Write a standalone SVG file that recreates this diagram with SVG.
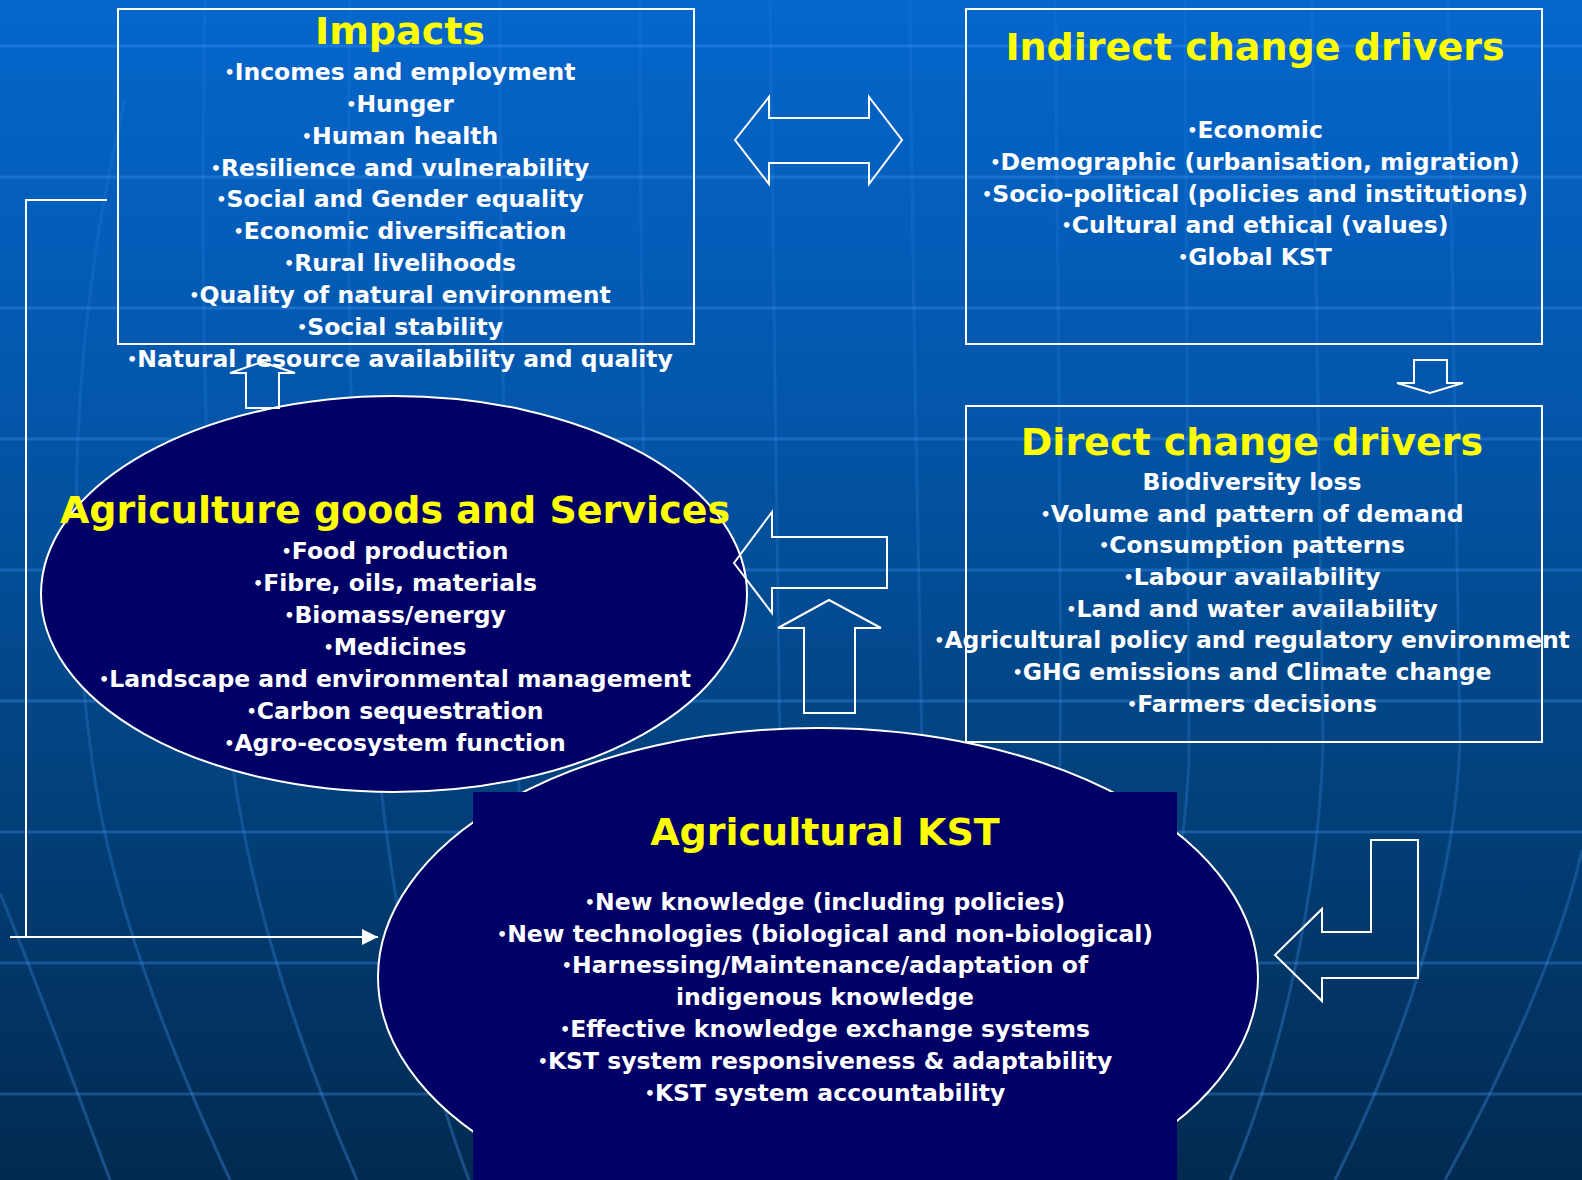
<svg xmlns="http://www.w3.org/2000/svg" width="1582" height="1180" viewBox="0 0 1582 1180">
  <defs>
    <linearGradient id="bg" x1="0" y1="0" x2="0" y2="1">
      <stop offset="0" stop-color="#0566cc"/>
      <stop offset="0.35" stop-color="#0356aa"/>
      <stop offset="0.65" stop-color="#02427f"/>
      <stop offset="1" stop-color="#022a50"/>
    </linearGradient>
    <linearGradient id="meridianFade" gradientUnits="userSpaceOnUse" x1="0" y1="0" x2="0" y2="1180">
      <stop offset="0" stop-color="#4aa0ff" stop-opacity="0.1"/>
      <stop offset="0.55" stop-color="#4aa0ff" stop-opacity="0.18"/>
      <stop offset="1" stop-color="#4aa0ff" stop-opacity="0.32"/>
    </linearGradient>
    <marker id="head" viewBox="0 0 16 16" refX="16" refY="8" markerWidth="16" markerHeight="16" markerUnits="userSpaceOnUse" orient="auto">
      <path d="M0,0 L16,8 L0,16 Z" fill="#ffffff"/>
    </marker>
    <style>
      .grid { stroke: #4aa0ff; stroke-opacity: 0.3; stroke-width: 3; fill: none; }
      .meridian { stroke: url(#meridianFade); stroke-width: 3; fill: none; }
      .frame { fill: none; stroke: #ffffff; stroke-width: 2; }
      .oval { fill: #000066; stroke: #ffffff; stroke-width: 2; }
      .navy { fill: #000066; }
      .block { fill: none; stroke: #ffffff; stroke-width: 2; stroke-linejoin: miter; }
      .wire { fill: none; stroke: #ffffff; stroke-width: 2; }
      text { font-family: "DejaVu Sans", Verdana, sans-serif; font-weight: bold; text-anchor: middle; }
      .title { fill: #ffff00; font-size: 38px; }
      .item { fill: #ffffff; font-size: 23.5px; }
      .b { font-size: 16px; baseline-shift: 2px; }
    </style>
  </defs>

  <!-- backdrop: blue gradient with a faint globe grid -->
  <rect x="0" y="0" width="1582" height="1180" fill="url(#bg)"/>
  <g id="globe-grid">
    <path class="grid" d="M0,46 H1582 M0,177 H1582 M0,308 H1582 M0,439 H1582 M0,570 H1582 M0,701 H1582 M0,832 H1582 M0,963 H1582 M0,1094 H1582"/>
    <path class="meridian" d="M0,893 C40,990 80,1100 110,1180"/>
    <path class="meridian" d="M125,100 C70,330 65,560 92,760 C110,900 170,1050 230,1180"/>
    <path class="meridian" d="M205,0 C200,300 205,600 232,760 C250,900 300,1050 357,1180"/>
    <path class="meridian" d="M350,0 C345,300 352,600 378,760 C392,900 420,1050 469,1180"/>
    <path class="meridian" d="M500,0 C500,300 505,600 520,800"/>
    <path class="meridian" d="M640,0 C640,200 642,350 645,600"/>
    <path class="meridian" d="M770,0 C772,300 778,600 780,760"/>
    <path class="meridian" d="M910,0 C912,300 920,600 922,760"/>
    <path class="meridian" d="M1055,0 C1058,300 1062,600 1060,760 C1055,900 1040,1050 1020,1180"/>
    <path class="meridian" d="M1185,0 C1187,300 1190,600 1189,760 C1185,850 1160,1000 1120,1180"/>
    <path class="meridian" d="M1312,0 C1315,300 1322,600 1323,740 C1320,880 1285,1050 1230,1180"/>
    <path class="meridian" d="M1448,0 C1452,300 1460,600 1460,740 C1455,900 1395,1060 1335,1180"/>
    <path class="meridian" d="M1582,850 C1560,950 1500,1080 1445,1180"/>
  </g>

  <!-- Impacts -->
  <g id="impacts">
    <rect class="frame" x="118" y="9" width="576" height="335"/>
    <text class="title" x="400" y="44">Impacts</text>
    <text class="item" x="400" y="80"><tspan class="b">•</tspan>Incomes and employment</text>
    <text class="item" x="400" y="112"><tspan class="b">•</tspan>Hunger</text>
    <text class="item" x="400" y="144"><tspan class="b">•</tspan>Human health</text>
    <text class="item" x="400" y="176"><tspan class="b">•</tspan>Resilience and vulnerability</text>
    <text class="item" x="400" y="207"><tspan class="b">•</tspan>Social and Gender equality</text>
    <text class="item" x="400" y="239"><tspan class="b">•</tspan>Economic diversification</text>
    <text class="item" x="400" y="271"><tspan class="b">•</tspan>Rural livelihoods</text>
    <text class="item" x="400" y="303"><tspan class="b">•</tspan>Quality of natural environment</text>
    <text class="item" x="400" y="335"><tspan class="b">•</tspan>Social stability</text>
    <text class="item" x="400" y="367"><tspan class="b">•</tspan>Natural resource availability and quality</text>
  </g>

  <!-- Indirect change drivers -->
  <g id="indirect-drivers">
    <rect class="frame" x="966" y="9" width="576" height="335"/>
    <text class="title" x="1255" y="60">Indirect change drivers</text>
    <text class="item" x="1255" y="138"><tspan class="b">•</tspan>Economic</text>
    <text class="item" x="1255" y="170"><tspan class="b">•</tspan>Demographic (urbanisation, migration)</text>
    <text class="item" x="1255" y="202"><tspan class="b">•</tspan>Socio-political (policies and institutions)</text>
    <text class="item" x="1255" y="233"><tspan class="b">•</tspan>Cultural and ethical (values)</text>
    <text class="item" x="1255" y="265"><tspan class="b">•</tspan>Global KST</text>
  </g>

  <!-- Direct change drivers -->
  <g id="direct-drivers">
    <rect class="frame" x="966" y="406" width="576" height="336"/>
    <text class="title" x="1252" y="455">Direct change drivers</text>
    <text class="item" x="1252" y="490">Biodiversity loss</text>
    <text class="item" x="1252" y="522"><tspan class="b">•</tspan>Volume and pattern of demand</text>
    <text class="item" x="1252" y="553"><tspan class="b">•</tspan>Consumption patterns</text>
    <text class="item" x="1252" y="585"><tspan class="b">•</tspan>Labour availability</text>
    <text class="item" x="1252" y="617"><tspan class="b">•</tspan>Land and water availability</text>
    <text class="item" x="1252" y="648"><tspan class="b">•</tspan>Agricultural policy and regulatory environment</text>
    <text class="item" x="1252" y="680"><tspan class="b">•</tspan>GHG emissions and Climate change</text>
    <text class="item" x="1252" y="712"><tspan class="b">•</tspan>Farmers decisions</text>
  </g>

  <!-- Agricultural KST -->
  <g id="agri-kst">
    <ellipse class="oval" cx="818" cy="977" rx="440" ry="249"/>
    <rect class="navy" x="473" y="792" width="704" height="388"/>
    <text class="title" x="825" y="845">Agricultural KST</text>
    <text class="item" x="825" y="910"><tspan class="b">•</tspan>New knowledge (including policies)</text>
    <text class="item" x="825" y="942"><tspan class="b">•</tspan>New technologies (biological and non-biological)</text>
    <text class="item" x="825" y="973"><tspan class="b">•</tspan>Harnessing/Maintenance/adaptation of</text>
    <text class="item" x="825" y="1005">indigenous knowledge</text>
    <text class="item" x="825" y="1037"><tspan class="b">•</tspan>Effective knowledge exchange systems</text>
    <text class="item" x="825" y="1069"><tspan class="b">•</tspan>KST system responsiveness &amp; adaptability</text>
    <text class="item" x="825" y="1101"><tspan class="b">•</tspan>KST system accountability</text>
  </g>

  <!-- Agriculture goods and Services -->
  <g id="agri-goods">
    <ellipse class="oval" cx="394" cy="594" rx="353" ry="198"/>
    <text class="title" x="395" y="523">Agriculture goods and Services</text>
    <text class="item" x="395" y="559"><tspan class="b">•</tspan>Food production</text>
    <text class="item" x="395" y="591"><tspan class="b">•</tspan>Fibre, oils, materials</text>
    <text class="item" x="395" y="623"><tspan class="b">•</tspan>Biomass/energy</text>
    <text class="item" x="395" y="655"><tspan class="b">•</tspan>Medicines</text>
    <text class="item" x="395" y="687"><tspan class="b">•</tspan>Landscape and environmental management</text>
    <text class="item" x="395" y="719"><tspan class="b">•</tspan>Carbon sequestration</text>
    <text class="item" x="395" y="751"><tspan class="b">•</tspan>Agro-ecosystem function</text>
  </g>

  <!-- connectors: outlined block arrows and the feedback line -->
  <g id="connectors">
    <polygon class="block" points="735,140 769,97 769,118 869,118 869,97 902,140 869,184 869,163 769,163 769,184"/>
    <polygon class="block" points="1414,360 1447,360 1447,383 1463,383 1430,393 1397,383 1414,383"/>
    <polygon class="block" points="734,563 772,512 772,537 887,537 887,588 772,588 772,613"/>
    <polygon class="block" points="829,600 881,628 855,628 855,713 804,713 804,628 778,628"/>
    <polygon class="block" points="262,362 295,373 279,373 279,408 246,408 246,373 230,373"/>
    <polygon class="block" points="1371,840 1418,840 1418,978 1322,978 1322,1001 1275,955 1322,909 1322,932 1371,932"/>
    <path class="wire" d="M107,200 H26 V937"/>
    <path class="wire" d="M10,937 H378" marker-end="url(#head)"/>
  </g>
</svg>
